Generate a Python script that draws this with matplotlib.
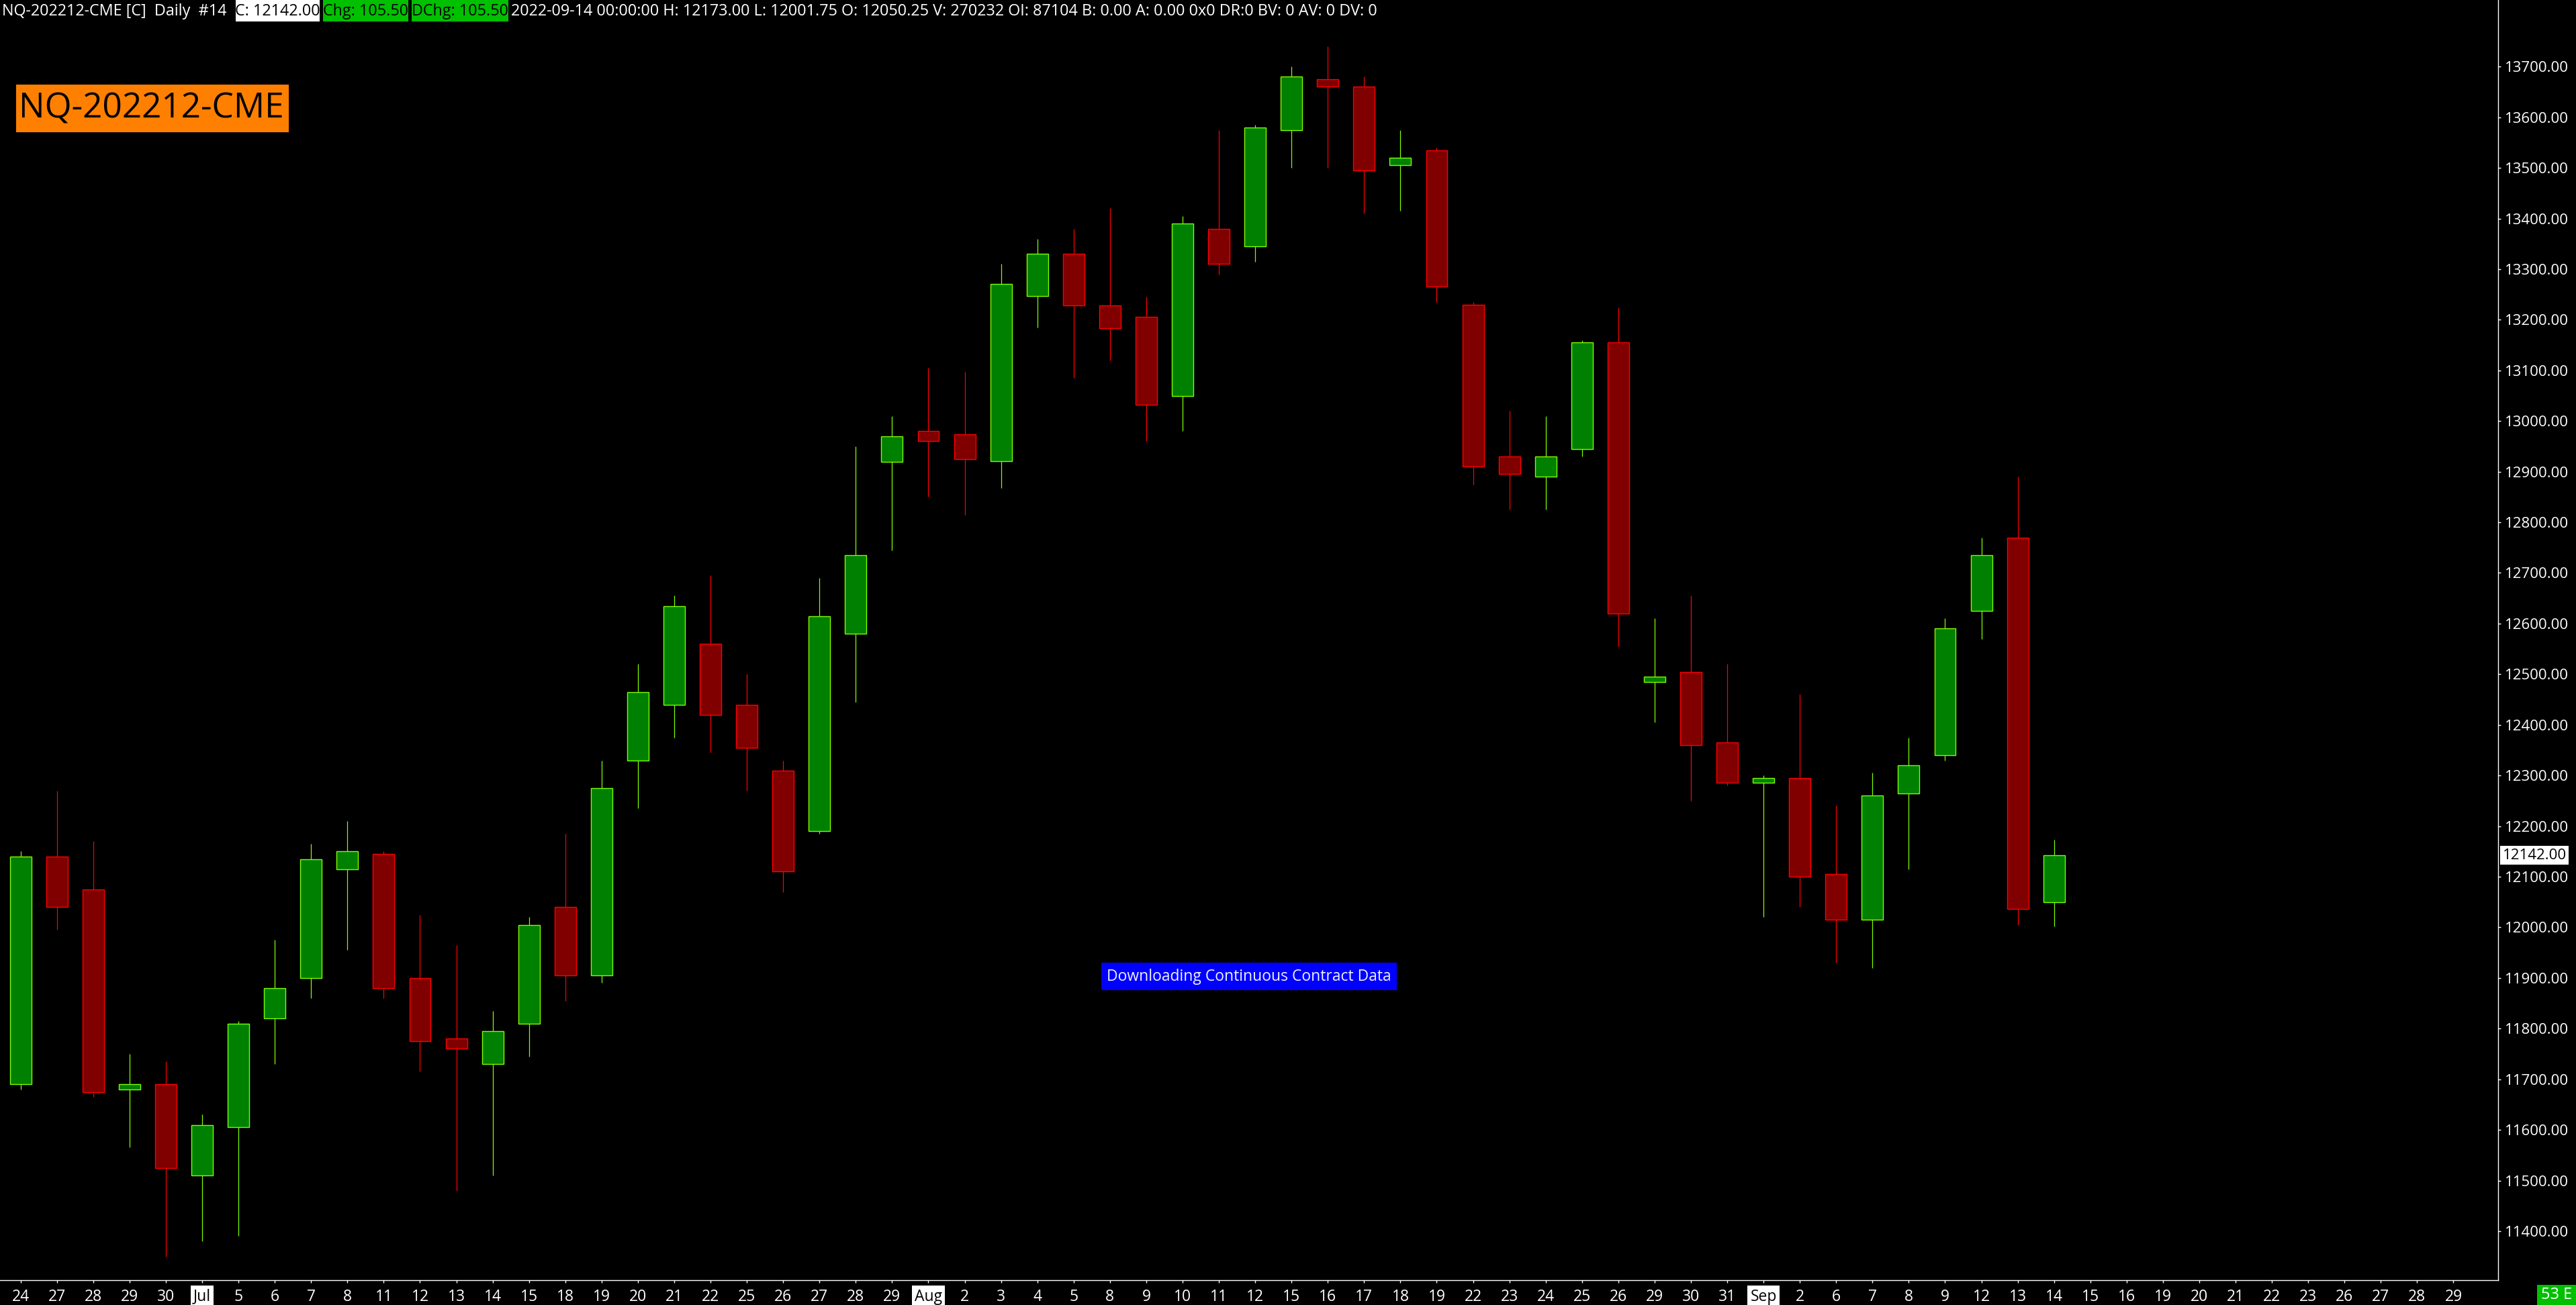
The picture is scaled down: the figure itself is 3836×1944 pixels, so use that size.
import numpy as np
import matplotlib
matplotlib.use("Agg")
import matplotlib.pyplot as plt
from matplotlib.patches import Rectangle
import matplotlib.transforms as mtransforms

plt.rcParams['font.family'] = ['Open Sans', 'DejaVu Sans']

# NQ daily bars, Jun 24 .. Sep 14 2022
opens = [11690, 12140, 12075, 11680, 11690, 11510, 11605, 11820, 11900, 12115,
         12145, 11900, 11780, 11730, 11810, 12040, 11905, 12330, 12440, 12560,
         12440, 12310, 12190, 12580, 12920, 12980, 12974, 12921, 13247, 13330,
         13228, 13206, 13050, 13380, 13345, 13575, 13675, 13660, 13505, 13535,
         13230, 12930, 12890, 12945, 13155, 12485, 12505, 12365, 12285, 12295,
         12105, 12015, 12265, 12340, 12625, 12770, 12050.25]
highs = [12150, 12270, 12170, 11750, 11735, 11630, 11815, 11975, 12165, 12210,
         12150, 12025, 11965, 11835, 12020, 12185, 12330, 12520, 12655, 12695,
         12500, 12330, 12690, 12950, 13010, 13105, 13097, 13310, 13360, 13380,
         13420, 13245, 13405, 13575, 13585, 13700, 13740, 13680, 13575, 13540,
         13235, 13020, 13010, 13160, 13225, 12610, 12655, 12520, 12300, 12460,
         12240, 12305, 12375, 12610, 12770, 12890, 12173]
lows = [11680, 11995, 11665, 11565, 11350, 11380, 11390, 11730, 11860, 11955,
        11860, 11715, 11480, 11510, 11745, 11855, 11890, 12235, 12375, 12345,
        12270, 12070, 12185, 12445, 12745, 12850, 12815, 12868, 13184, 13085,
        13120, 12960, 12980, 13290, 13315, 13500, 13500, 13410, 13415, 13235,
        12875, 12825, 12825, 12930, 12555, 12405, 12250, 12280, 12020, 12040,
        11930, 11920, 12115, 12330, 12570, 12005, 12001.75]
closes = [12140, 12040, 11675, 11690, 11525, 11610, 11810, 11880, 12135, 12150,
          11880, 11775, 11760, 11795, 12005, 11905, 12275, 12465, 12635, 12420,
          12355, 12110, 12615, 12735, 12970, 12960, 12925, 13271, 13330, 13228,
          13183, 13032, 13390, 13310, 13580, 13680, 13660, 13495, 13520, 13265,
          12910, 12895, 12930, 13155, 12620, 12495, 12360, 12285, 12295, 12100,
          12015, 12260, 12320, 12590, 12735, 12036.5, 12142]

# x axis labels (trading days incl. future ones)
day_labels = ['24', '27', '28', '29', '30', 'Jul', '5', '6', '7', '8',
              '11', '12', '13', '14', '15', '18', '19', '20', '21', '22',
              '25', '26', '27', '28', '29', 'Aug', '2', '3', '4', '5',
              '8', '9', '10', '11', '12', '15', '16', '17', '18', '19',
              '22', '23', '24', '25', '26', '29', '30', '31', 'Sep', '2',
              '6', '7', '8', '9', '12', '13', '14', '15', '16', '19',
              '20', '21', '22', '23', '26', '27', '28', '29']
month_labels = ['Jul', 'Aug', 'Sep']
price_ticks = list(range(11400, 13701, 100))

W, H = 3836, 1944
fig = plt.figure(figsize=(W / 100, H / 100), dpi=100, facecolor='black')


def fx(px):
    return px / W


def fy(py):
    return 1 - py / H


ax = fig.add_axes([0, fy(1907), fx(3720), 1 - fy(1907)])
ax.set_facecolor('black')

idx = np.arange(len(opens))
o = np.array(opens)
c = np.array(closes)
hi = np.array(highs)
lo = np.array(lows)
up = c >= o

wick_col = np.where(up, '#80FF00', '#FF0000')
ax.vlines(idx, lo, hi, colors=wick_col, linewidth=0.9, zorder=2)

bottoms = np.minimum(o, c)
heights = np.maximum(np.abs(c - o), 1.0)
ax.bar(idx[up], heights[up], bottom=bottoms[up], width=0.59,
       color='#008000', edgecolor='#80FF00', linewidth=1.0, zorder=3)
ax.bar(idx[~up], heights[~up], bottom=bottoms[~up], width=0.59,
       color='#800000', edgecolor='#FF0000', linewidth=1.0, zorder=3)

ax.set_xlim(-0.568, 68.23)
ax.set_ylim(11303.1, 13831.7)

for s in ['top', 'left']:
    ax.spines[s].set_visible(False)
for s in ['right', 'bottom']:
    ax.spines[s].set_color('white')
    ax.spines[s].set_linewidth(1.0)

ax.yaxis.tick_right()
ax.set_yticks(price_ticks)
ax.set_yticklabels(['%.2f' % v for v in price_ticks])
ax.tick_params(axis='y', colors='white', labelcolor='white', length=3,
               width=1, pad=4, labelsize=16)

ax.set_xticks(np.arange(len(day_labels)))
ax.set_xticklabels(day_labels)
ax.tick_params(axis='x', colors='white', labelcolor='white', length=3,
               width=1, pad=6, labelsize=16.5)
for lab in ax.get_xticklabels():
    if lab.get_text() in month_labels:
        lab.set_color('black')
        lab.set_bbox(dict(facecolor='white', edgecolor='none', pad=3))

# last price marker
trans = mtransforms.blended_transform_factory(ax.transAxes, ax.transData)
ax.text(1.0018, closes[-1], '%.2f' % closes[-1], transform=trans,
        ha='left', va='center', fontsize=16, color='black', zorder=10,
        bbox=dict(facecolor='white', edgecolor='none', pad=2.5), clip_on=False)

# header line
hdr = 16.8
fig.text(fx(3), fy(17), 'NQ-202212-CME [C]  Daily  #14', color='white',
         fontsize=hdr, va='center', ha='left')
boxes = [(351, 476, 'white', 'C: 12142.00'),
         (481, 608, '#00C000', 'Chg: 105.50'),
         (613, 757, '#00C000', 'DChg: 105.50')]
for x0, x1, col, txt in boxes:
    fig.add_artist(Rectangle((fx(x0), fy(32)), fx(x1 - x0), 32 / H,
                             transform=fig.transFigure, facecolor=col,
                             edgecolor='none'))
    fig.text(fx((x0 + x1) / 2), fy(17), txt, color='black', fontsize=hdr,
             va='center', ha='center')
fig.text(fx(761), fy(17),
         '2022-09-14 00:00:00 H: 12173.00 L: 12001.75 O: 12050.25 V: 270232 '
         'OI: 87104 B: 0.00 A: 0.00 0x0 DR:0 BV: 0 AV: 0 DV: 0',
         color='white', fontsize=hdr, va='center', ha='left')

# symbol title
fig.add_artist(Rectangle((fx(24), fy(197)), fx(406), 71 / H,
                         transform=fig.transFigure, facecolor='#FF8000',
                         edgecolor='none'))
fig.text(fx(28), fy(162), 'NQ-202212-CME', color='black', fontsize=37,
         va='center', ha='left')

# status message
fig.add_artist(Rectangle((fx(1640), fy(1475)), fx(440), 41 / H,
                         transform=fig.transFigure, facecolor='#0000FF',
                         edgecolor='none'))
fig.text(fx(1860), fy(1455), 'Downloading Continuous Contract Data',
         color='#F0F0FF', fontsize=16.5, va='center', ha='center')

# corner box
fig.add_artist(Rectangle((fx(3778), fy(1944)), fx(58), 30 / H,
                         transform=fig.transFigure, facecolor='#00C000',
                         edgecolor='none'))
fig.text(fx(3807), fy(1929), '53 E', color='white', fontsize=17,
         va='center', ha='center')

fig.savefig('out.png', dpi=100, facecolor='black')
